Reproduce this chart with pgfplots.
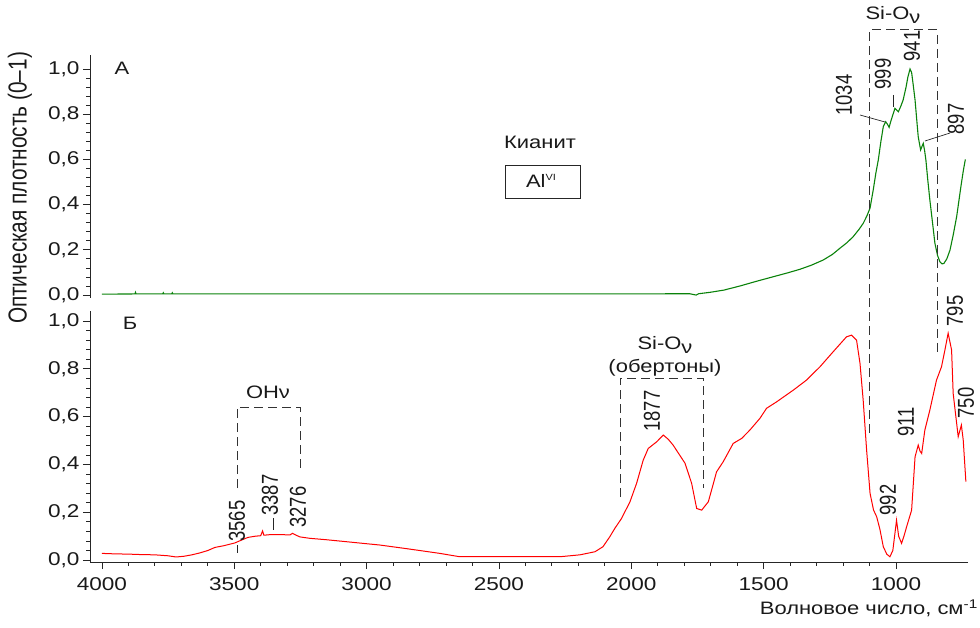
\documentclass[border=0pt]{standalone}
\usepackage{fontspec}
\setmainfont{Liberation Sans}[FakeStretch=1.22]
\newfontfamily\rotfont{Liberation Sans}[FakeStretch=0.8]
\usepackage{pgfplots}
\pgfplotsset{compat=1.18}
\definecolor{specgreen}{RGB}{10,130,10}
\definecolor{specred}{RGB}{255,0,0}
\pgfplotsset{spec/.style={
  scale only axis, width=878pt,
  x dir=reverse, xmin=728, xmax=4045,
  axis y line*=left,
  tick align=outside,
  major tick length=7pt, minor tick length=3.5pt,
  ytick={0,0.2,0.4,0.6,0.8,1.0}, minor y tick num=4,
  yticklabel style={/pgf/number format/.cd, use comma, fixed, fixed zerofill, precision=1, assume math mode=true},
  xticklabel style={/pgf/number format/.cd, 1000 sep={}, assume math mode=true},
  ticklabel style={font=\fontsize{18.5}{21}\selectfont, text=black!90},
  every tick/.style={black!85, line width=0.8pt},
  axis line style={black!85, line width=0.9pt},
}}
\tikzset{dsh/.style={black!80, line width=1.0pt, dash pattern=on 9pt off 5pt},
  rl/.style={rotate=90, font=\rotfont\fontsize{23}{25}\selectfont, text=black!90, inner sep=0pt},
  tl/.style={font=\fontsize{18}{21}\selectfont, text=black!90, inner sep=0pt}}
\begin{document}
\begin{tikzpicture}
\useasboundingbox (0pt,0pt) rectangle (980pt,-628pt);
% Panel A
\begin{axis}[spec, at={(90pt,-298pt)}, anchor=south west, height=243pt,
  ymin=-0.013, ymax=1.062, axis x line=none]
\addplot[specgreen, line width=1.1pt] coordinates {
(4000,0.004) (3875,0.005) (3873,0.012) (3871,0.005) (3770,0.005) (3768,0.010) (3766,0.005)
(3736,0.005) (3734,0.010) (3732,0.005) (3000,0.005) (2000,0.005) (1780,0.006) (1755,0.000)
(1745,0.006) (1703,0.012) (1650,0.022) (1590,0.040) (1530,0.060) (1464,0.081) (1410,0.098)
(1363,0.114) (1320,0.132) (1275,0.155) (1240,0.180) (1212,0.207) (1185,0.232) (1162,0.258)
(1140,0.290) (1124,0.317) (1110,0.350) (1098,0.385) (1086,0.465) (1076,0.540) (1067,0.597)
(1057,0.680) (1048,0.745) (1039,0.767) (1032,0.755) (1026,0.742) (1018,0.775) (1010,0.804)
(1004,0.826) (997,0.818) (991,0.811) (982,0.835) (973,0.863) (962,0.920) (955,0.965)
(947,1.000) (941,0.985) (935,0.930) (928,0.863) (922,0.780) (916,0.700) (907,0.642)
(901,0.660) (897,0.671) (892,0.640) (887,0.597) (880,0.510) (872,0.420) (862,0.320)
(853,0.229) (843,0.175) (834,0.147) (826,0.138) (819,0.140) (808,0.160) (796,0.199)
(784,0.265) (771,0.346) (762,0.420) (753,0.494) (745,0.555) (738,0.600)};
\end{axis}
% Panel B
\begin{axis}[spec, at={(90pt,-562pt)}, anchor=south west, height=251pt,
  ymin=-0.008, ymax=1.042, axis x line*=bottom,
  xtick={1000,1500,2000,2500,3000,3500,4000}, minor x tick num=4,
  xticklabel shift=5pt]
\addplot[specred, line width=1.0pt] coordinates {
(4000,0.028) (3950,0.026) (3900,0.025) (3850,0.023) (3800,0.022) (3750,0.018) (3720,0.013)
(3690,0.016) (3660,0.022) (3630,0.030) (3600,0.040) (3573,0.053) (3540,0.060) (3497,0.072)
(3470,0.085) (3448,0.095) (3420,0.100) (3400,0.102) (3393,0.122) (3388,0.104) (3360,0.107)
(3327,0.107) (3290,0.105) (3280,0.112) (3270,0.106) (3252,0.097) (3214,0.091) (3150,0.085)
(3050,0.074) (2950,0.063) (2850,0.048) (2723,0.028) (2648,0.014) (2500,0.014) (2345,0.014)
(2270,0.014) (2194,0.022) (2137,0.035) (2107,0.056) (2081,0.098) (2062,0.133) (2037,0.174)
(2005,0.244) (1980,0.321) (1955,0.418) (1936,0.467) (1904,0.495) (1879,0.523) (1860,0.505)
(1842,0.481) (1797,0.405) (1772,0.321) (1753,0.216) (1734,0.209) (1709,0.244) (1690,0.320)
(1678,0.369) (1653,0.411) (1615,0.488) (1583,0.509) (1552,0.544) (1514,0.593) (1489,0.635)
(1451,0.662) (1388,0.711) (1338,0.753) (1287,0.809) (1237,0.872) (1187,0.934) (1168,0.941)
(1149,0.920) (1136,0.823) (1124,0.669) (1111,0.460) (1098,0.279) (1085,0.210) (1073,0.181)
(1061,0.130) (1048,0.056) (1035,0.025) (1023,0.014) (1012,0.040) (1004,0.112) (998,0.167)
(990,0.100) (979,0.070) (970,0.100) (960,0.139) (941,0.209) (928,0.432) (916,0.481)
(909,0.455) (903,0.446) (891,0.544) (872,0.628) (847,0.753) (828,0.809) (815,0.880)
(803,0.949) (790,0.879) (784,0.697) (765,0.516) (753,0.565) (746,0.502) (736,0.328)};
\end{axis}
\begin{scope}[x=1pt,y=-1pt]
% axis title
\node[rotate=90, font=\rotfont\fontsize{26}{28}\selectfont, text=black!90, inner sep=0pt] at (20,188) {Оптическая плотность (0–1)};
\node[tl, anchor=east] at (978,608) {Волновое число, см\textsuperscript{-1}};
\node[tl] at (122,68) {А};
\node[tl] at (130,323) {Б};
\node[tl] at (540,142) {Кианит};
\draw[black!85, line width=0.9pt] (505,165) rectangle (580,198);
\node[tl] at (541,181) {Al\raisebox{0.7ex}{\fontsize{9}{9}\selectfont VI}};
% Si-O bracket top
\draw[dsh] (869,433) -- (869,30) -- (937,30) -- (937,356);
\node[tl] at (893,15) {Si-O\raisebox{-0.35ex}{ν}};
\node[rl] at (844,95) {1034};
\node[rl] at (883,74) {999};
\node[rl] at (912,46) {941};
\node[rl] at (956,119) {897};
\draw[black!85, line width=0.7pt] (860,115) -- (885,122);
\draw[black!85, line width=0.7pt] (893,95) -- (893,107);
\draw[black!85, line width=0.7pt] (925,141) -- (950,133);
% OH bracket
\draw[dsh] (237,488) -- (237,407) -- (300,407) -- (300,472);
\node[tl] at (268,392) {OHν};
\node[rl] at (237,521) {3565};
\node[rl] at (270,495) {3387};
\node[rl] at (298,507) {3276};
\draw[black!85, line width=0.7pt] (237,545) -- (237,553);
\draw[black!85, line width=0.7pt] (273,518) -- (273,530);
% overtone bracket
\draw[dsh] (620,497) -- (620,378) -- (703,378) -- (703,488);
\node[tl] at (665,345) {Si-O\raisebox{-0.35ex}{ν}};
\node[tl] at (665,368) {(обертоны)};
\node[rl] at (652,411) {1877};
% bottom right labels
\node[rl] at (888,500) {992};
\node[rl] at (906,422) {911};
\node[rl] at (955,311) {795};
\node[rl] at (966,403) {750};
\end{scope}
\end{tikzpicture}
\end{document}
